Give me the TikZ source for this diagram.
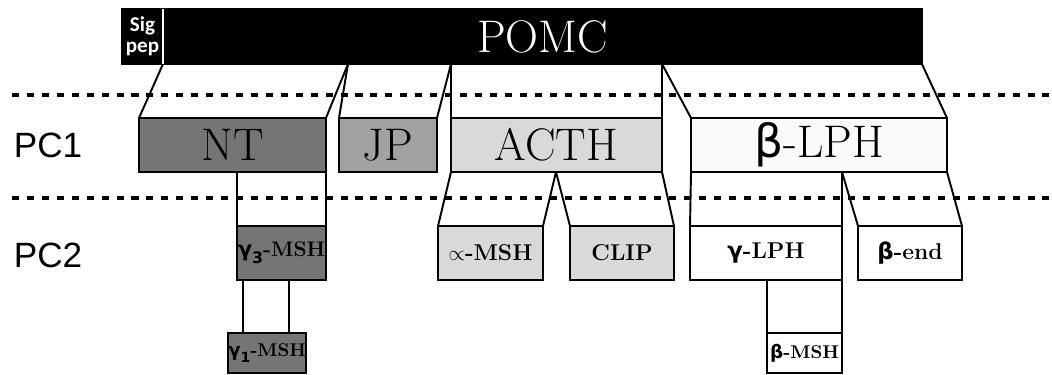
\documentclass[tikz,border=0pt]{standalone}
\usepackage{fontspec}
\newfontfamily\grk{DejaVu Sans}
\newfontfamily\pcfont{Liberation Sans}
\newfontfamily\sigfont{Carlito}
\begin{document}
\begin{tikzpicture}[x=0.02cm, y=-0.02cm,
  box/.style={draw, line width=1.1pt, inner sep=0pt, outer sep=0pt, minimum height=1.08cm, font=\fontsize{26}{30}\selectfont},
  small/.style={box, font=\bfseries\fontsize{13}{15}\selectfont},
  tiny/.style={box, minimum height=0.8cm, font=\bfseries\fontsize{10.5}{12}\selectfont},
  cut/.style={line width=2pt, dash pattern=on 4pt off 4.5pt},
  pc/.style={font=\pcfont\fontsize{20}{24}\selectfont}]
\useasboundingbox (0,0) rectangle (1052,375);
\node[box, fill=black, text=white, minimum width=15.18cm, minimum height=1.1cm] (pomc) at (542.5,36.5){POMC};
\node[box, fill=black, text=white, minimum width=0.82cm, minimum height=1.1cm, align=center, font=\sigfont\bfseries\fontsize{12}{12}\selectfont] (sig) at (142.5,36.5){Sig\\pep};
\draw[white, line width=1pt](sig.north east) -- (sig.south east);
\draw[cut] (12,95) -- (1052,95);
\draw[cut] (12,198) -- (1052,198);
\node[pc] (pc1) at (48,145.5){PC1};
\node[pc] (pc2) at (48,255.5){PC2};
\node[box, fill=black!54, minimum width=3.74cm] (nt) at (232.5,145){NT};
\node[box, fill=black!37, minimum width=1.96cm] (jp) at (388,145){JP};
\node[box, fill=black!15, minimum width=4.22cm] (acth) at (556.5,145){ACTH};
\node[box, fill=black!2, minimum width=5.12cm] (blph) at (819,145){{\grk β}-LPH};
\coordinate (c1) at (348,64);
\draw[line width=1.1pt](sig.south east) -- (nt.north west);
\draw[line width=1.1pt](c1) -- (nt.north east);
\draw[line width=1.1pt](c1) -- (jp.north west);
\draw[line width=1.1pt](acth.north west |- pomc.south) -- (jp.north east);
\draw[line width=1.1pt](acth.north west |- pomc.south) -- (acth.north west);
\draw[line width=1.1pt](acth.north east |- pomc.south) -- (acth.north east);
\draw[line width=1.1pt](acth.north east |- pomc.south) -- (blph.north west);
\draw[line width=1.1pt](pomc.south east) -- (blph.north east);
\node[small, fill=black!54, minimum width=1.78cm, font=\bfseries\fontsize{12}{14}\selectfont] (g3) at (281.5,253){{\grk γ}\raisebox{-0.8ex}{\grk\fontsize{9}{9}\selectfont 3}-MSH};
\node[tiny, fill=black!54, minimum width=1.44cm] (g1) at (267,353){{\grk γ}\raisebox{-0.8ex}{\grk\fontsize{8}{8}\selectfont 1}-MSH};
\node[small, fill=black!15, minimum width=2.1cm] (amsh) at (490.5,253){$\propto$-MSH};
\node[small, fill=black!15, minimum width=2.08cm] (clip) at (622,253){CLIP};
\node[small, fill=white, minimum width=3.04cm] (glph) at (766,253){{\grk γ}-LPH};
\node[small, fill=white, minimum width=2.08cm] (bend) at (910,253){{\grk\bfseries β}-end};
\node[tiny, fill=white, minimum width=1.5cm] (bmsh) at (804.5,353){{\grk β}-MSH};
\coordinate (c2) at (243,280);
\coordinate (c3) at (289,280);
\coordinate (c4) at (556,172);
\draw[line width=1.1pt](g3.north west |- nt.south) -- (g3.north west);
\draw[line width=1.1pt](nt.south east) -- (g3.north east);
\draw[line width=1.1pt](c2) -- (c2 |- g1.north);
\draw[line width=1.1pt](c3) -- (c3 |- g1.north);
\draw[line width=1.1pt](acth.south west) -- (amsh.north west);
\draw[line width=1.1pt](c4) -- (amsh.north east);
\draw[line width=1.1pt](c4) -- (clip.north west);
\draw[line width=1.1pt](acth.south east) -- (clip.north east);
\draw[line width=1.1pt](blph.south west) -- (glph.north west);
\draw[line width=1.1pt](glph.north east |- blph.south) -- (glph.north east);
\draw[line width=1.1pt](glph.north east |- blph.south) -- (bend.north west);
\draw[line width=1.1pt](blph.south east) -- (bend.north east);
\draw[line width=1.1pt](bmsh.north west |- glph.south) -- (bmsh.north west);
\draw[line width=1.1pt](glph.south east) -- (bmsh.north east);
\end{tikzpicture}
\end{document}
